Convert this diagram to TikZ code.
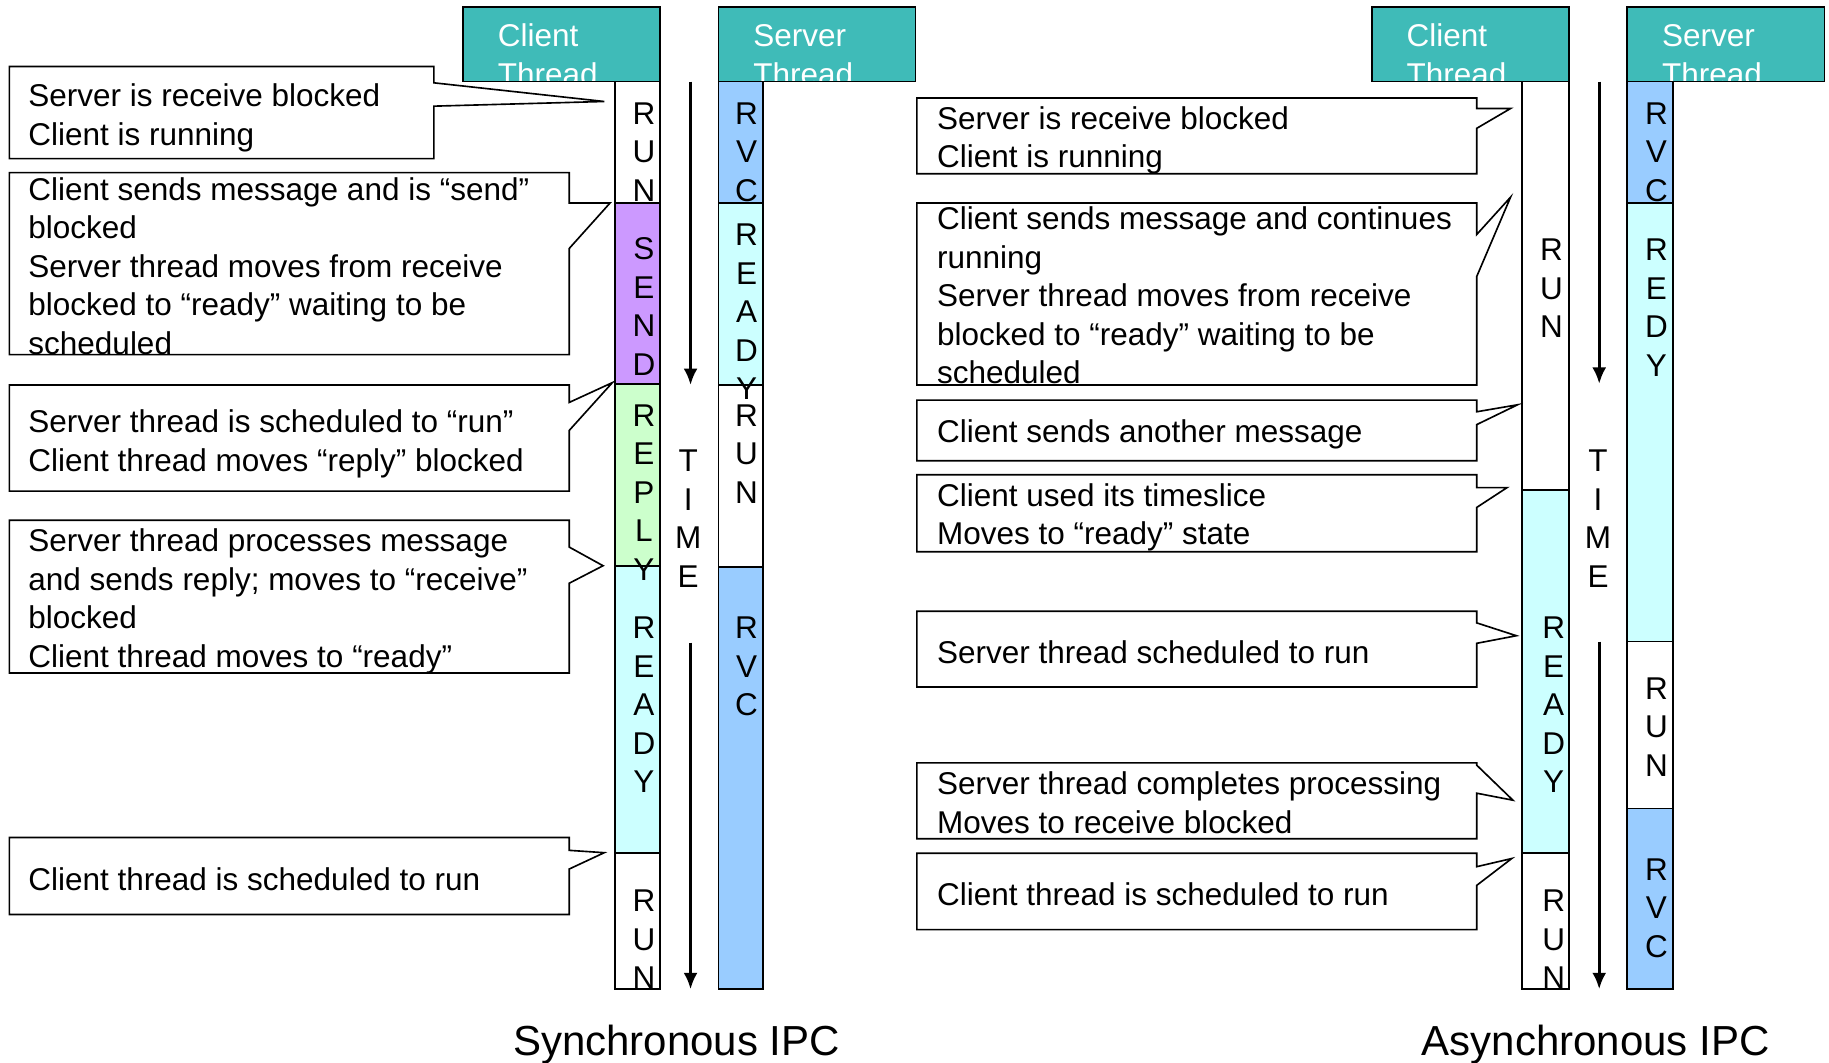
\documentclass[tikz,border=0pt]{standalone}
\usepackage{fontspec}
\setmainfont{Liberation Sans}
\usetikzlibrary{arrows.meta}

\definecolor{hdrteal}{HTML}{3FBBB8}
\definecolor{rvcblue}{HTML}{99CCFF}
\definecolor{readycyan}{HTML}{CCFFFF}
\definecolor{sendpurple}{HTML}{CC99FF}
\definecolor{replygreen}{HTML}{CCFFCC}

% letters of a state name, stacked down a column
\newcommand\stackletters[3]{%
  \foreach \c [count=\i from 0] in {#3} {\node[ltr] at (#1,{#2+33*\i}) {\c};}}

% callout box with a pointer on its right edge:
% left, top, right, bottom, pointer start y, tip, pointer end y
\newcommand\callout[7]{%
  \draw[cbox] (#1,#2) -- (#3,#2) -- (#3,#5) -- #6 -- (#3,#7) -- (#3,#4) -- (#1,#4) -- cycle;}

% callout text: name, x, baseline of first line, number of lines, text
\newcommand\calltext[5]{%
  \node[txt] (#1) at (#2,{#3+33*(#4-1)}) {#5};}

% header box with clipped two-line title
\newcommand\header[4]{%
  \fill[hdrteal] (#1,6) rectangle (#1+169,70);
  \begin{scope}
    \clip (#1,6) rectangle (#1+169,70);
    \node[hdrtxt] (#2) at (#1+29.5,40) {#3};
    \node[hdrtxt] (#2b) at (#1+29.5,73) {#4};
  \end{scope}
  \draw[line width=0.7pt] (#1,6) rectangle (#1+169,70);}

\begin{document}
\begin{tikzpicture}[x=0.5pt,y=-0.5pt,
  body/.style={font=\fontsize{13.5}{16.5}\selectfont},
  txt/.style={body, inner sep=0pt, align=left, anchor=base west},
  ltr/.style={body, inner sep=0pt, text height=9.5pt, text depth=0pt},
  hdrtxt/.style={body, text=white, inner sep=0pt, anchor=base west},
  cbox/.style={draw=black, fill=white, line width=0.7pt, line join=miter},
  seg/.style={draw=black, line width=0.7pt},
  timeline/.style={line width=1.25pt, -{Latex[length=7pt,width=6pt]}},
  caption/.style={font=\fontsize{18}{20}\selectfont, inner sep=0pt, anchor=base}]

\useasboundingbox (0,0) rectangle (1568,911);
\fill[white] (0,0) rectangle (1568,911);

% ---------------- synchronous IPC ----------------
\header{397}{sc}{Client}{Thread}
\header{616}{ss}{Server}{Thread}

% client thread states
\draw[seg, fill=white]      (527,70)  rectangle (566,174);
\draw[seg, fill=sendpurple] (527,174) rectangle (566,329);
\draw[seg, fill=replygreen] (527,329) rectangle (566,485);
\draw[seg, fill=readycyan]  (527,485) rectangle (566,731);
\draw[seg, fill=white]      (527,731) rectangle (566,848);
% server thread states
\draw[seg, fill=rvcblue]    (616,70)  rectangle (654,174);
\draw[seg, fill=readycyan]  (616,174) rectangle (654,330);
\draw[seg, fill=white]      (616,330) rectangle (654,486);
\draw[seg, fill=rvcblue]    (616,486) rectangle (654,848);

\stackletters{552}{97}{R,U,N}
\stackletters{552}{213}{S,E,N,D}
\stackletters{552}{356}{R,E,P,L,Y}
\stackletters{552}{538}{R,E,A,D,Y}
\stackletters{552}{772}{R,U,N}
\stackletters{640}{97}{R,V,C}
\stackletters{640}{201}{R,E,A,D,Y}
\stackletters{640}{356}{R,U,N}
\stackletters{640}{538}{R,V,C}

% time axis
\coordinate (sa1) at (592,70);  \coordinate (sa2) at (592,330);
\coordinate (sb1) at (592,551); \coordinate (sb2) at (592,848);
\draw[timeline] (sa1) -- (sa2);
\draw[timeline] (sb1) -- (sb2);
\stackletters{590}{395}{T,I,M,E}

% callouts
\callout{8}{57}{372}{136}{71}{(518,87)}{91}
\calltext{s1}{24}{91.4}{2}{Server is receive blocked\\Client is running}
\callout{8}{148}{488}{304}{174}{(523,174)}{213}
\calltext{s2}{24}{171.5}{5}{Client sends message and is “send”\\blocked\\Server thread moves from receive\\blocked to “ready” waiting to be\\scheduled}
\callout{8}{330}{488}{421}{345}{(525,328)}{369}
\calltext{s3}{24}{371}{2}{Server thread is scheduled to “run”\\Client thread moves “reply” blocked}
\callout{8}{446}{488}{577}{469}{(517,485)}{500}
\calltext{s4}{24}{473}{4}{Server thread processes message\\and sends reply; moves to “receive”\\blocked\\Client thread moves to “ready”}
\callout{8}{718}{488}{784}{729}{(518,731)}{745}
\calltext{s5}{24}{763}{1}{Client thread is scheduled to run}

\node[caption] (scap) at (580,905) {Synchronous IPC};

% ---------------- asynchronous IPC ----------------
\header{1176}{ac}{Client}{Thread}
\header{1395}{as}{Server}{Thread}

\draw[seg, fill=white]     (1305,70)  rectangle (1345,420);
\draw[seg, fill=readycyan] (1305,420) rectangle (1345,731);
\draw[seg, fill=white]     (1305,731) rectangle (1345,848);
\draw[seg, fill=rvcblue]   (1395,70)  rectangle (1434,174);
\draw[seg, fill=readycyan] (1395,174) rectangle (1434,550);
\draw[seg, fill=white]     (1395,550) rectangle (1434,693);
\draw[seg, fill=rvcblue]   (1395,693) rectangle (1434,848);

\stackletters{1330}{214}{R,U,N}
\stackletters{1332}{538}{R,E,A,D,Y}
\stackletters{1332}{772}{R,U,N}
\stackletters{1420}{97}{R,V,C}
\stackletters{1420}{214}{R,E,D,Y}
\stackletters{1420}{590}{R,U,N}
\stackletters{1420}{745}{R,V,C}

\coordinate (aa1) at (1371,70);  \coordinate (aa2) at (1371,329);
\coordinate (ab1) at (1371,550); \coordinate (ab2) at (1371,848);
\draw[timeline] (aa1) -- (aa2);
\draw[timeline] (ab1) -- (ab2);
\stackletters{1370}{395}{T,I,M,E}

\callout{786}{84}{1266}{149}{93}{(1295,93)}{110}
\calltext{a1}{803}{111}{2}{Server is receive blocked\\Client is running}
\callout{786}{174}{1266}{330}{201}{(1295,169)}{237}
\calltext{a2}{803}{197}{5}{Client sends message and continues\\running\\Server thread moves from receive\\blocked to “ready” waiting to be\\scheduled}
\callout{786}{343}{1266}{395}{353}{(1301,347)}{364}
\calltext{a3}{803}{379.5}{1}{Client sends another message}
\callout{786}{407}{1266}{473}{418}{(1292,418)}{435}
\calltext{a4}{803}{434}{2}{Client used its timeslice\\Moves to “ready” state}
\callout{786}{524}{1266}{589}{534}{(1300,545)}{551.5}
\calltext{a5}{803}{568.6}{1}{Server thread scheduled to run}
\callout{786}{654}{1266}{719}{656}{(1297,686)}{680}
\calltext{a6}{803}{681.5}{2}{Server thread completes processing\\Moves to receive blocked}
\callout{786}{731.5}{1266}{797}{743}{(1296,736)}{759}
\calltext{a7}{803}{776}{1}{Client thread is scheduled to run}

\node[caption] (acap) at (1368,905) {Asynchronous IPC};

\end{tikzpicture}
\end{document}
